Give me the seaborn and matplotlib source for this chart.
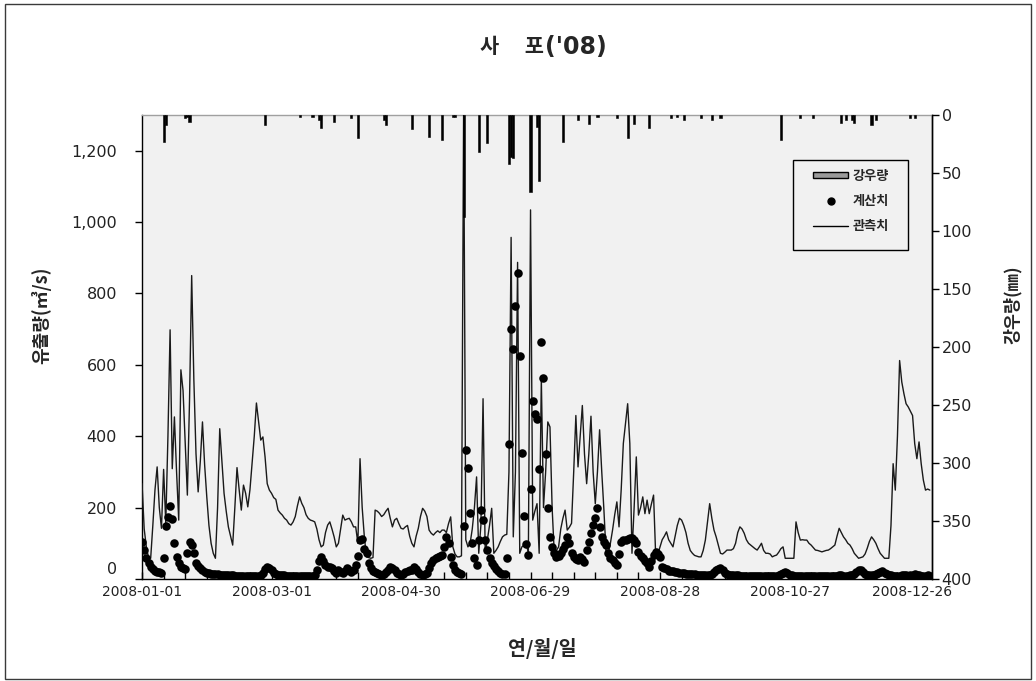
import pandas as pd
import matplotlib
matplotlib.use("Agg")
import matplotlib.pyplot as plt
from matplotlib.patches import Rectangle, Patch
from matplotlib.lines import Line2D
from matplotlib.ticker import FuncFormatter, MultipleLocator
import seaborn as sns

sns.set_theme(style="ticks")
plt.rcParams["font.family"] = ["Noto Sans CJK KR", "DejaVu Sans"]
plt.rcParams["axes.unicode_minus"] = False

# Daily observed discharge (m3/s), 2008
obs_jan = [267, 140, 90, 60, 58, 150, 250, 314, 200, 142, 307, 156, 400, 698, 309, 454, 300, 165, 586, 528,
           380, 235, 500, 850, 560, 351, 244, 330, 440, 320, 230]
obs_feb = [150, 100, 72, 58, 200, 421, 330, 240, 190, 146, 120, 95, 200, 312, 250, 193, 263, 240, 202, 250,
           325, 400, 493, 440, 389, 398, 342, 267, 249]
obs_mar = [240, 228, 223, 193, 185, 179, 170, 165, 155, 151, 160, 175, 205, 230, 212, 200, 180, 170, 165, 163,
           160, 140, 110, 90, 95, 130, 151, 160, 140, 118, 90]
obs_apr = [100, 140, 179, 165, 168, 170, 160, 146, 146, 100, 337, 200, 118, 62, 60, 58, 60, 193, 190, 184,
           175, 180, 190, 198, 170, 146, 165, 170, 155, 142]
obs_may = [140, 146, 150, 120, 100, 90, 120, 142, 175, 198, 190, 175, 137, 128, 123, 130, 135, 130, 137, 137,
           130, 155, 174, 90, 70, 62, 62, 65, 1320, 110, 90]
obs_jun = [100, 140, 200, 286, 72, 150, 505, 72, 110, 150, 198, 72, 80, 90, 105, 118, 123, 125, 300, 957,
           118, 300, 887, 72, 90, 95, 100, 72, 1034, 165]
obs_jul = [190, 211, 72, 560, 200, 300, 440, 426, 200, 72, 80, 90, 140, 170, 193, 137, 145, 156, 300, 458,
           314, 400, 486, 350, 267, 350, 456, 300, 211, 300, 418]
obs_aug = [300, 193, 72, 72, 100, 137, 180, 216, 146, 250, 380, 435, 491, 380, 72, 200, 342, 179, 200, 230,
           183, 221, 183, 210, 235, 62, 70, 90, 110, 120, 132]
obs_sep = [110, 100, 90, 120, 150, 170, 165, 150, 130, 100, 80, 72, 66, 64, 62, 62, 80, 109, 160, 211,
           170, 137, 118, 95, 72, 70, 75, 81, 81, 81]
obs_oct = [85, 100, 130, 146, 140, 128, 110, 100, 95, 90, 85, 81, 90, 100, 80, 72, 72, 70, 62, 65,
           67, 75, 85, 90, 58, 58, 58, 58, 58, 160, 130]
obs_nov = [109, 110, 109, 109, 100, 95, 88, 81, 80, 78, 76, 78, 80, 81, 85, 90, 95, 120, 142, 130,
           118, 110, 100, 95, 85, 72, 65, 58, 60, 62]
obs_dec = [70, 86, 105, 118, 110, 100, 85, 72, 65, 58, 58, 58, 150, 323, 249, 400, 612, 552, 519, 491,
           482, 470, 458, 379, 337, 384, 323, 277, 249, 252, 249]

# Daily simulated discharge (m3/s), 2008
calc_jan = [105, 81, 58, 44, 34, 27, 22, 20, 19, 18, 58, 148, 175, 205, 167, 102, 62, 44, 34, 30,
            28, 72, 104, 95, 72, 44, 36, 30, 25, 20, 18]
calc_feb = [16, 15, 14, 13, 13, 12, 12, 11, 11, 10, 10, 10, 9, 9, 9, 9, 9, 8, 8, 8,
            8, 8, 8, 8, 10, 18, 28, 34, 30]
calc_mar = [25, 18, 14, 12, 11, 10, 10, 9, 9, 9, 9, 9, 8, 8, 8, 8, 8, 8, 9, 9,
            11, 25, 50, 62, 50, 39, 34, 34, 30, 22, 18]
calc_apr = [25, 20, 16, 22, 30, 25, 20, 25, 39, 65, 109, 111, 85, 72, 44, 30, 22, 20, 16, 13,
            11, 15, 20, 25, 34, 30, 25, 16, 13, 11]
calc_may = [15, 20, 22, 25, 25, 34, 28, 20, 15, 11, 14, 16, 30, 44, 52, 58, 62, 64, 67, 90,
            118, 100, 62, 39, 25, 20, 16, 14, 148, 360, 312]
calc_jun = [184, 100, 58, 40, 109, 193, 165, 109, 80, 58, 44, 35, 28, 22, 18, 15, 14, 60, 377, 701,
            643, 766, 857, 624, 353, 177, 97, 66, 252, 498]
calc_jul = [463, 449, 309, 665, 562, 351, 198, 118, 90, 72, 62, 65, 72, 85, 95, 118, 100, 72, 62, 55,
            53, 62, 55, 48, 81, 105, 128, 150, 170, 198, 146]
calc_aug = [118, 105, 95, 72, 60, 53, 45, 39, 70, 104, 109, 110, 112, 114, 114, 108, 100, 76, 65, 58,
            50, 44, 34, 50, 67, 76, 70, 62, 34, 30, 27]
calc_sep = [23, 22, 21, 20, 19, 18, 17, 16, 15, 14, 14, 13, 13, 12, 12, 12, 11, 11, 11, 12,
            15, 20, 25, 28, 30, 25, 18, 14, 12, 11]
calc_oct = [10, 10, 10, 9, 9, 9, 9, 9, 8, 8, 8, 8, 8, 8, 8, 8, 8, 8, 8, 8,
            9, 10, 14, 18, 20, 16, 12, 10, 9, 9, 9]
calc_nov = [9, 9, 9, 8, 8, 8, 8, 8, 8, 8, 8, 8, 8, 8, 8, 8, 8, 9, 10, 10,
            9, 9, 9, 10, 12, 15, 20, 24, 25, 20]
calc_dec = [15, 12, 10, 10, 12, 15, 18, 20, 22, 18, 14, 11, 10, 9, 8, 8, 8, 10, 12, 10,
            9, 10, 12, 14, 12, 10, 9, 8, 9, 10, 8]

# Daily rainfall (mm): day of year (0 = 1 Jan) and depth
rain_day = [10, 11, 20, 21, 22, 57, 73, 79, 82, 83, 89, 97, 100, 112, 113, 125, 133, 139, 144, 145,
            149, 156, 160, 170, 171, 172, 180, 183, 184, 195, 202, 207, 211, 220, 225, 228, 235, 245,
            248, 251, 259, 264, 268, 296, 305, 311, 324, 326, 329, 330, 338, 340, 356, 358]
rain_mm = [23, 9, 3, 2, 6, 9, 1.5, 1.5, 4, 11.5, 6, 3, 20, 4, 9, 12, 19, 22, 2, 1.5,
           88, 32, 24, 42, 36, 37, 66, 10, 57, 23, 4, 8, 1.5, 3, 20, 8, 11.5, 3,
           1.5, 4, 3, 4, 3, 22, 3, 3, 7, 4, 4, 7, 9, 4, 3, 3]

title_name = "사\u3000 포"
title_year = "('08)"
x_title = "연/월/일"
y_left_title = "유출량(㎥/s)"
y_right_title = "강우량(㎜)"
legend_labels = ["강우량", "계산치", "관측치"]

observed = (obs_jan + obs_feb + obs_mar + obs_apr + obs_may + obs_jun +
            obs_jul + obs_aug + obs_sep + obs_oct + obs_nov + obs_dec)
calculated = (calc_jan + calc_feb + calc_mar + calc_apr + calc_may + calc_jun +
              calc_jul + calc_aug + calc_sep + calc_oct + calc_nov + calc_dec)

start = pd.Timestamp("2008-01-01")
dates = pd.date_range(start, periods=len(observed), freq="D")
df = pd.DataFrame({"date": dates, "observed": observed, "calculated": calculated})
rain_df = pd.DataFrame({"date": start + pd.to_timedelta(rain_day, unit="D"), "rain": rain_mm})

fig = plt.figure(figsize=(10.36, 6.81), dpi=100)
fig.patch.set_facecolor("white")
ax = fig.add_axes([0.1371, 0.1498, 0.7625, 0.6814])
ax.set_facecolor("#f1f1f1")

sns.lineplot(data=df, x="date", y="observed", ax=ax, color="#1a1a1a",
             linewidth=1.0, zorder=3)
sns.scatterplot(data=df, x="date", y="calculated", ax=ax, color="black",
                s=38, linewidth=0, zorder=4)

ax.set_xlim(start, start + pd.Timedelta(days=366))
ax.set_ylim(0, 1300)
ax.yaxis.set_major_locator(MultipleLocator(200))
# the zero label is drawn separately, lifted clear of the date labels
ax.yaxis.set_major_formatter(FuncFormatter(lambda v, p: "" if v == 0 else f"{v:,.0f}"))
ax.annotate("0", xy=(0, 0), xycoords=("axes fraction", "data"), xytext=(-18, 6.5),
            textcoords="offset points", ha="right", va="center", fontsize=11.5,
            family="DejaVu Sans", color="#222222")
ax.set_xlabel("")
ax.set_ylabel("")

tick_dates = pd.date_range(start, periods=37, freq="10D")
label_dates = tick_dates[::6]
ax.set_xticks(tick_dates)
ax.set_xticklabels([""] * len(tick_dates))
ax.tick_params(axis="x", direction="in", length=5, width=1, color="black")
# date labels every 60 days; the last one is nudged left to clear the right axis
for i, d in enumerate(label_dates):
    dx = -5 if i == len(label_dates) - 1 else 0
    ax.annotate(d.strftime("%Y-%m-%d"), xy=(d, 0), xycoords=("data", "axes fraction"),
                xytext=(dx, -4), textcoords="offset points", ha="center", va="top",
                fontsize=10, family="DejaVu Sans", color="#222222")
ax.tick_params(axis="y", direction="out", length=5, width=1, color="black", labelsize=11.5,
               pad=13, labelcolor="#222222")
for lbl in ax.get_yticklabels():
    lbl.set_family("DejaVu Sans")

for side in ["left", "bottom", "right"]:
    ax.spines[side].set_color("black")
    ax.spines[side].set_linewidth(1.0)
ax.spines["top"].set_color("#a0a0a0")
ax.spines["top"].set_linewidth(1.0)

# Rainfall hangs from the top on an inverted secondary axis
ax2 = ax.twinx()
ax2.bar(rain_df["date"], rain_df["rain"], width=1.0, color="black", edgecolor="black",
        linewidth=0.4, align="center", zorder=2)
ax2.set_ylim(400, 0)
ax2.yaxis.set_major_locator(MultipleLocator(50))
ax2.tick_params(axis="y", direction="out", length=5, width=1, color="black", labelsize=11.5,
                pad=2, labelcolor="#222222")
for lbl in ax2.get_yticklabels():
    lbl.set_family("DejaVu Sans")
for side in ["left", "bottom", "top"]:
    ax2.spines[side].set_visible(False)
ax2.spines["right"].set_color("black")
ax2.spines["right"].set_linewidth(1.0)

# Legend box with a wider side margin than the default frame allows
ax2.add_patch(Rectangle((0.824, 0.709), 0.146, 0.194, transform=ax2.transAxes,
                        facecolor="#f1f1f1", edgecolor="black", linewidth=1.0, zorder=5))
handles = [
    Patch(facecolor="#9a9a9a", edgecolor="black", linewidth=1.0),
    Line2D([], [], linestyle="none", marker="o", markersize=5, color="black"),
    Line2D([], [], color="black", linewidth=1.0),
]
leg = ax2.legend(handles, legend_labels, loc="upper left", bbox_to_anchor=(0.849, 0.884),
                 borderaxespad=0, borderpad=0, frameon=False,
                 prop={"weight": "bold", "size": 9.5}, labelspacing=0.85,
                 handlelength=2.7, handleheight=0.4, handletextpad=0.35)
leg.set_zorder(6)

# Title: station name in Hangul, year tag in a wider Latin face
fig.text(0.5245, 0.931, title_name, ha="right", va="center", fontsize=15, fontweight="bold")
fig.text(0.5265, 0.931, title_year, ha="left", va="center", fontsize=17, fontweight="bold",
         family="DejaVu Sans")
fig.text(0.523, 0.048, x_title, ha="center", va="center", fontsize=14, fontweight="bold")
fig.text(0.040, 0.537, y_left_title, ha="center", va="center", rotation=90,
         fontsize=13, fontweight="bold")
fig.text(0.977, 0.553, y_right_title, ha="center", va="center", rotation=90,
         fontsize=12.5, fontweight="bold")

fig.patches.append(Rectangle((0.005, 0.003), 0.990, 0.991, transform=fig.transFigure,
                             fill=False, edgecolor="#3a3a3a", linewidth=1.0))

fig.savefig("out.png", dpi=100)
